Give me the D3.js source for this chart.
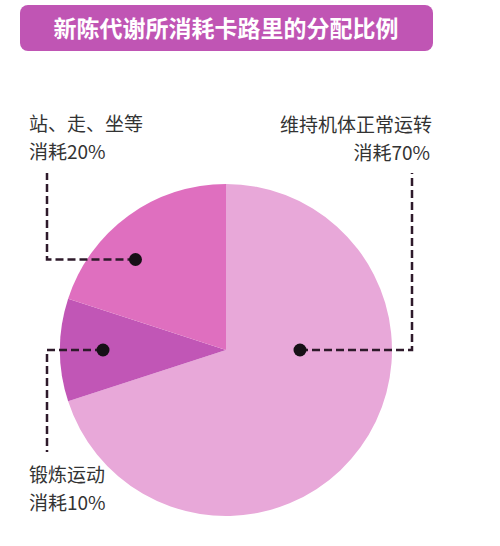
<!DOCTYPE html>
<html lang="zh">
<head>
<meta charset="UTF-8">
<title>新陈代谢所消耗卡路里的分配比例</title>
<script src="https://cdn.jsdelivr.net/npm/d3@7"></script>
<style>
  body { margin: 0; background: #fff; }
  text { font-family: "Noto Sans CJK SC", "Noto Sans", sans-serif; }
</style>
</head>
<body>
<div id="chart"></div>
<script>
// data
const categories = ["维持机体正常运转", "锻炼运动", "站、走、坐等"];
const values = [70, 10, 20];
const valueLabels = ["消耗70%", "消耗10%", "消耗20%"];
const colors = ["#e8a8d9", "#c156b6", "#df6fbf"];
const title = "新陈代谢所消耗卡路里的分配比例";

const w = 500, h = 546;
const cx = 226, cy = 350, radius = 166;

const svg = d3.select("#chart").append("svg")
  .attr("width", w)
  .attr("height", h);

// title banner
svg.append("rect")
  .attr("x", 20).attr("y", 5)
  .attr("width", 413).attr("height", 46)
  .attr("rx", 8)
  .attr("fill", "#c055b4");
svg.append("text")
  .attr("x", 226).attr("y", 37)
  .attr("text-anchor", "middle")
  .attr("fill", "#fff")
  .attr("font-size", 23)
  .attr("font-weight", "bold")
  .text(title);

const pie = d3.pie().sort(null).value(d => d);
const arcs = pie(values);
const arc = d3.arc().innerRadius(0).outerRadius(radius);

const g = svg.append("g").attr("transform", `translate(${cx},${cy})`);
g.selectAll("path")
  .data(arcs)
  .enter()
  .append("path")
  .attr("d", arc)
  .attr("fill", (d, i) => colors[i]);

// label layout: where the dot sits (angle, distance) and where the leader ends
const labelLayout = [
  { ang: Math.PI / 2, r: 74, elbowX: 412, topY: 173, anchor: "end", tx: 432, ty: 132 },
  { ang: 3 * Math.PI / 2, r: 123, elbowX: 47, topY: 452, anchor: "start", tx: 29, ty: 482 },
  { ang: 1.75 * Math.PI, r: 128, elbowX: 47, topY: 173, anchor: "start", tx: 29, ty: 131 }
];

const leaders = svg.append("g");
arcs.forEach((a, i) => {
  const L = labelLayout[i];
  const px = cx + L.r * Math.sin(L.ang);
  const py = cy - L.r * Math.cos(L.ang);
  const path = d3.path();
  path.moveTo(px, py);
  path.lineTo(L.elbowX, py);
  path.lineTo(L.elbowX, L.topY);
  leaders.append("path")
    .attr("d", path.toString())
    .attr("fill", "none")
    .attr("stroke", "#2e1a2b")
    .attr("stroke-width", 2.5)
    .attr("stroke-dasharray", "8,4");
  leaders.append("circle")
    .attr("cx", px).attr("cy", py)
    .attr("r", 6.5)
    .attr("fill", "#161016");

  svg.append("text")
    .attr("x", L.tx).attr("y", L.ty)
    .attr("text-anchor", L.anchor)
    .attr("fill", "#333")
    .attr("font-size", 19)
    .text(categories[i]);
  svg.append("text")
    .attr("x", L.anchor === "end" ? L.tx - 2 : L.tx).attr("y", L.ty + 28)
    .attr("text-anchor", L.anchor)
    .attr("fill", "#333")
    .attr("font-size", 19)
    .text(valueLabels[i]);
});
</script>
</body>
</html>
